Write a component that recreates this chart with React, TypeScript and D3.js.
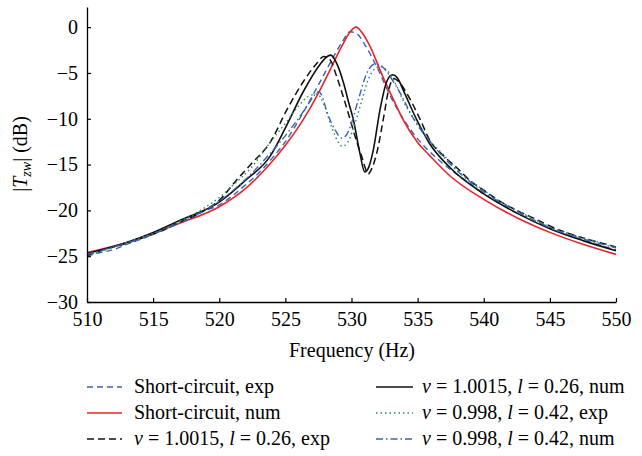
import React, { useEffect, useRef } from 'react';
import * as d3 from 'd3';

const W = 642;
const H = 456;

const xTicks = [510, 515, 520, 525, 530, 535, 540, 545, 550];
const yTicks = [-30, -25, -20, -15, -10, -5, 0];

// Short-circuit, exp
const scExp: [number, number][] = [
  [510, -25.0], [511, -24.6], [512, -24.3], [513, -23.7], [514, -23.2], [515, -22.6], [516, -22.0], [517, -21.3],
  [518, -20.6], [519, -20.0], [520, -19.4], [521, -18.4], [522, -17.2], [523, -15.9], [524, -14.3], [525, -12.5],
  [526.35, -9.3], [527.5, -6.3], [528.5, -3.6], [529.3, -1.6], [529.9, -0.5], [530.4, -0.7], [531.0, -1.9],
  [532, -4.6], [533, -7.7], [534, -10.2], [535, -12.2], [536, -13.7], [537, -15.0], [538, -16.1], [539, -17.1],
  [540, -18.2], [541, -19.0], [542.5, -20.3], [544, -21.2], [545, -21.9], [546, -22.5], [547.5, -23.2],
  [549, -23.9], [550, -24.3],
];

// Short-circuit, num
const scNum: [number, number][] = [
  [510, -24.6], [513, -23.5], [515, -22.5], [517, -21.4], [520, -19.6], [522, -17.6], [523.8, -15.0],
  [525, -12.9], [526.35, -10.1], [527.5, -7.2], [528.4, -4.6], [529.3, -2.0], [529.9, -0.5], [530.35, 0],
  [530.8, -0.6], [531.3, -1.8], [532.4, -5.5], [533.2, -8.0], [533.9, -10.1], [535, -12.6], [535.9, -14.0],
  [537.5, -16.3], [540, -18.8], [542.5, -20.8], [545, -22.4], [547.5, -23.7], [550, -24.8],
];

// nu = 1.0015, l = 0.26, exp
const v1Exp: [number, number][] = [
  [510, -24.9], [511, -24.4], [512, -24.0], [513, -23.6], [514, -23.1], [515, -22.6], [516, -22.0], [517, -21.3],
  [518, -20.7], [519, -19.9], [520, -18.9], [521.3, -16.7], [522.5, -14.8], [523.84, -12.6], [525.1, -9.05],
  [526.35, -5.96], [527.37, -3.96], [527.9, -3.2], [528.4, -3.6], [528.88, -5.4], [529.4, -7.7], [529.9, -10.1],
  [530.35, -12.3], [530.77, -14.1], [531.27, -16.0], [531.6, -15.2], [531.9, -13.8], [532.4, -10.1],
  [532.8, -6.9], [533.2, -5.6], [533.6, -6.0], [534.17, -7.2], [535.2, -10.1], [535.9, -12.3], [537, -14.1],
  [538, -15.4], [539, -16.8], [540, -17.8], [541, -18.8], [542.5, -20.0], [544, -21.0], [545, -21.7],
  [546, -22.3], [547.5, -23.0], [549, -23.6], [550, -24.0],
];

// nu = 1.0015, l = 0.26, num
const v1Num: [number, number][] = [
  [510, -24.7], [513, -23.5], [515, -22.4], [517, -21.1], [520, -19.1], [522, -16.7], [523.84, -14.1],
  [525, -11.0], [526.35, -7.05], [527.6, -4.1], [528.0, -3.4], [528.43, -3.05], [528.9, -4.0], [529.4, -6.1],
  [529.8, -8.3], [530.14, -10.1], [530.64, -13.8], [531.0, -15.8], [531.3, -15.3], [531.65, -13.4],
  [532.15, -9.05], [532.66, -5.96], [533.1, -5.2], [533.5, -5.6], [533.92, -6.9], [534.93, -10.1],
  [535.9, -12.7], [537.5, -15.4], [540, -18.2], [542.5, -20.3], [545, -22.0], [547.5, -23.3], [550, -24.4],
];

// nu = 0.998, l = 0.42, exp
const v2Exp: [number, number][] = [
  [510, -24.9], [511, -24.5], [512, -24.0], [513, -23.5], [514, -23.0], [515, -22.5], [516, -21.9], [517, -21.2],
  [518, -20.5], [519, -19.6], [520, -18.6], [521, -17.3], [522.5, -15.2], [523.84, -12.6], [525, -10.5],
  [526, -8.6], [526.8, -7.5], [527.4, -7.3], [527.9, -8.4], [528.4, -10.5], [528.9, -12.3], [529.3, -13.0],
  [529.7, -12.6], [530.2, -10.8], [530.7, -8.4], [531.3, -5.6], [531.8, -4.5], [532.2, -4.3], [532.6, -4.6],
  [533.2, -5.8], [534, -8.3], [535, -10.6], [536, -12.5], [537, -14.0], [538, -15.6], [539, -16.8],
  [540, -17.8], [541, -18.8], [542.5, -20.0], [544, -21.1], [545, -21.8], [546, -22.3], [547.5, -23.0],
  [549, -23.6], [550, -24.0],
];

// nu = 0.998, l = 0.42, num
const v2Num: [number, number][] = [
  [510, -24.8], [512, -24.0], [514, -23.1], [516, -22.0], [518, -20.7], [520, -19.0], [522, -16.6],
  [523.84, -13.8], [525.35, -11.2], [526.6, -8.7], [527.2, -7.4], [527.5, -7.05], [527.8, -7.6],
  [528.1, -9.05], [528.75, -11.2], [529.26, -12.1], [529.6, -11.8], [529.9, -10.9], [530.5, -8.0],
  [531.15, -5.05], [531.8, -4.0], [532.3, -4.3], [533.4, -6.5], [534.9, -10.5], [536, -12.6],
  [537.5, -15.0], [540, -18.0], [542.5, -20.1], [545, -21.9], [547.5, -23.1], [550, -24.1],
];

const BLUE = '#3a62b4';
const RED = '#e8242a';
const GREEN = '#2e8b57';
const BLACK = '#111';
const FONT = '"Liberation Serif", "DejaVu Serif", "Times New Roman", Times, serif';
const FS = '20px';

type Part = { t: string; i?: boolean };
type Series = { data: [number, number][]; color: string; dash: string | null; width: number; label: Part[] };

const series: Series[] = [
  { data: scExp, color: BLUE, dash: '6,4', width: 1.4, label: [{ t: 'Short-circuit, exp' }] },
  { data: scNum, color: RED, dash: null, width: 1.6, label: [{ t: 'Short-circuit, num' }] },
  {
    data: v1Exp, color: BLACK, dash: '7,4', width: 1.5,
    label: [{ t: 'ν', i: true }, { t: ' = 1.0015, ' }, { t: 'l', i: true }, { t: ' = 0.26, exp' }],
  },
  {
    data: v1Num, color: BLACK, dash: null, width: 1.6,
    label: [{ t: 'ν', i: true }, { t: ' = 1.0015, ' }, { t: 'l', i: true }, { t: ' = 0.26, num' }],
  },
  {
    data: v2Exp, color: GREEN, dash: '1.5,3', width: 1.4,
    label: [{ t: 'ν', i: true }, { t: ' = 0.998, ' }, { t: 'l', i: true }, { t: ' = 0.42, exp' }],
  },
  {
    data: v2Num, color: BLUE, dash: '7,3,1.5,3', width: 1.4,
    label: [{ t: 'ν', i: true }, { t: ' = 0.998, ' }, { t: 'l', i: true }, { t: ' = 0.42, num' }],
  },
];

export default function App() {
  const ref = useRef<SVGSVGElement>(null);

  useEffect(() => {
    const svg = d3.select(ref.current);
    svg.selectAll('*').remove();

    const x = d3.scaleLinear().domain([510, 550]).range([87, 616]);
    const y = d3.scaleLinear().domain([-30, 2.2]).range([302, 7]);

    const line = d3
      .line<[number, number]>()
      .x((d) => x(d[0]))
      .y((d) => y(d[1]))
      .curve(d3.curveMonotoneX);

    const gc = svg.append('g');
    series.forEach((s) => {
      gc.append('path')
        .attr('d', line(s.data) as string)
        .attr('fill', 'none')
        .attr('stroke', s.color)
        .attr('stroke-width', s.width)
        .attr('stroke-dasharray', s.dash)
        .attr('stroke-linejoin', 'round');
    });

    const gx = svg
      .append('g')
      .attr('transform', 'translate(0,302)')
      .call(
        d3.axisBottom(x).tickValues(xTicks).tickSizeInner(-4).tickSizeOuter(0).tickPadding(10).tickFormat(d3.format('d'))
      );
    const gy = svg
      .append('g')
      .attr('transform', 'translate(87,0)')
      .call(d3.axisLeft(y).tickValues(yTicks).tickSizeInner(-4).tickSizeOuter(0).tickPadding(9).tickFormat(d3.format('d')));
    [gx, gy].forEach((g) => {
      g.attr('font-family', null).attr('font-size', null);
      g.style('font-family', FONT).style('font-size', FS);
      g.select('.domain').attr('stroke', '#000').attr('stroke-width', 1.3);
      g.selectAll('.tick line').attr('stroke', '#000').attr('stroke-width', 1.2);
      g.selectAll('.tick text').attr('fill', '#000');
    });

    svg
      .append('text')
      .attr('x', 352)
      .attr('y', 357)
      .attr('text-anchor', 'middle')
      .style('font-family', FONT)
      .style('font-size', FS)
      .text('Frequency (Hz)');

    const yl = svg
      .append('text')
      .attr('transform', 'translate(27,154) rotate(-90)')
      .attr('text-anchor', 'middle')
      .style('font-family', FONT)
      .style('font-size', FS);
    yl.append('tspan').text('|');
    yl.append('tspan').attr('font-style', 'italic').text('T');
    yl.append('tspan').attr('font-style', 'italic').style('font-size', '14px').attr('dy', 4).text('zw');
    yl.append('tspan').attr('dy', -4).text('| (dB)');

    const rows = [387, 413, 439];
    const cols = [
      { x0: 87, x1: 122, tx: 134 },
      { x0: 376, x1: 413, tx: 422 },
    ];
    series.forEach((s, i) => {
      const c = cols[Math.floor(i / 3)];
      const ry = rows[i % 3];
      svg
        .append('line')
        .attr('x1', c.x0)
        .attr('x2', c.x1)
        .attr('y1', ry)
        .attr('y2', ry)
        .attr('stroke', s.color)
        .attr('stroke-width', s.width)
        .attr('stroke-dasharray', s.dash);
      const t = svg
        .append('text')
        .attr('x', c.tx)
        .attr('y', ry + 6)
        .style('font-family', FONT)
        .style('font-size', FS);
      s.label.forEach((p) => {
        const ts = t.append('tspan').text(p.t);
        if (p.i) ts.attr('font-style', 'italic');
      });
    });
  }, []);

  return (
    <svg
      ref={ref}
      width={W}
      height={H}
      style={{ position: 'absolute', left: 0, top: 0, background: '#fff' }}
    />
  );
}
